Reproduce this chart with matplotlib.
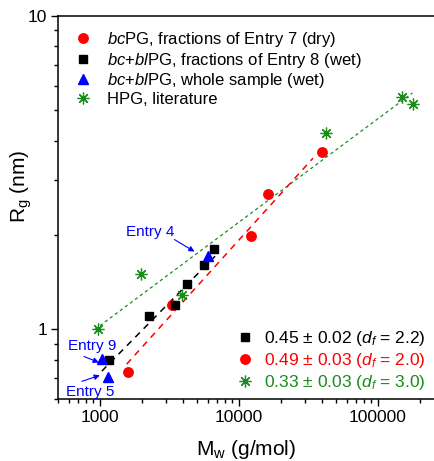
import numpy as np
import matplotlib
matplotlib.use("Agg")
import matplotlib.pyplot as plt
from matplotlib.lines import Line2D
from matplotlib.ticker import LogLocator, NullFormatter, FixedLocator, FixedFormatter

plt.rcParams['font.family'] = ['Liberation Sans', 'DejaVu Sans']
plt.rcParams['mathtext.fontset'] = 'custom'
plt.rcParams['mathtext.rm'] = 'Liberation Sans'
plt.rcParams['mathtext.it'] = 'Liberation Sans:italic'
plt.rcParams['mathtext.bf'] = 'Liberation Sans:bold'

# ---------------- data ----------------
red_mw = [1590, 3280, 12300, 16250, 39700]
red_rg = [0.73, 1.20, 1.99, 2.71, 3.69]

black_mw = [1160, 2245, 3450, 4275, 5660, 6670]
black_rg = [0.797, 1.10, 1.20, 1.40, 1.60, 1.80]

blue_mw = [1034, 1141, 6040]
blue_rg = [0.803, 0.703, 1.71]

green_mw = [967, 1968, 3873, 42400, 148600, 178000]
green_rg = [1.00, 1.50, 1.29, 4.24, 5.52, 5.25]

# power-law fits: exponent, reference point (Mw, Rg), range of Mw
fit_black = dict(nu=0.45, ref=(2715, 1.137), rng=(1034, 7130))
fit_red = dict(nu=0.49, ref=(7362, 1.658), rng=(1561, 34200))
fit_green = dict(nu=0.33, ref=(921, 1.0), rng=(921, 178000))

fit_labels = ["0.45 \u00b1 0.02 ($d_f$ = 2.2)",
              "0.49 \u00b1 0.03 ($d_f$ = 2.0)",
              "0.33 \u00b1 0.03 ($d_f$ = 3.0)"]

legend_labels = ["$bc$PG, fractions of Entry 7 (dry)",
                 "$bc$+$bl$PG, fractions of Entry 8 (wet)",
                 "$bc$+$bl$PG, whole sample (wet)",
                 "HPG, literature"]

x_ticks = [1000, 10000, 100000]
x_ticklabels = ["1000", "10000", "100000"]
y_ticks = [1, 10]
y_ticklabels = ["1", "10"]

RED = '#ff0000'
BLACK = '#000000'
BLUE = '#0000ff'
GREEN = '#1a8c1a'

# ---------------- figure ----------------
fig = plt.figure(figsize=(4.34, 4.61), dpi=100)
ax = fig.add_axes([58/434, 1-399/461, 386/434, 383/461])
ax.set_xscale('log')
ax.set_yscale('log')
ax.set_xlim(500, 300000)
ax.set_ylim(0.6, 10)


def fit_line(f):
    x = np.logspace(np.log10(f['rng'][0]), np.log10(f['rng'][1]), 50)
    A = f['ref'][1] / f['ref'][0] ** f['nu']
    return x, A * x ** f['nu']

xg, yg = fit_line(fit_green)
ax.plot(xg, yg, color=GREEN, lw=0.9, ls=(0, (2.6, 2.4)), zorder=2)
xb, yb = fit_line(fit_black)
ax.plot(xb, yb, color=BLACK, lw=1.1, ls=(0, (4.2, 3.6)), zorder=2)
xr, yr = fit_line(fit_red)
ax.plot(xr, yr, color=RED, lw=1.1, ls=(0, (4.2, 3.6)), zorder=2)

ast = (8, 2, 0)
ax.plot(green_mw, green_rg, ls='none', marker=ast, ms=8.5, mec=GREEN, mew=0.9, zorder=3)
ax.plot(red_mw, red_rg, ls='none', marker='o', ms=6.8, mfc=RED, mec=RED, zorder=4)
ax.plot(black_mw, black_rg, ls='none', marker='s', ms=5.5, mfc=BLACK, mec=BLACK, zorder=4)
ax.plot(blue_mw, blue_rg, ls='none', marker='^', ms=7.5, mfc=BLUE, mec=BLUE, zorder=5)

# annotations
arrow_kw = dict(arrowstyle='-|>', color=BLUE, lw=0.8, mutation_scale=8,
                shrinkA=0, shrinkB=0)
ax.annotate('', xy=(4797, 1.772), xytext=(3449, 1.935), arrowprops=arrow_kw)
ax.text(2321, 2.051, "Entry 4", color=BLUE, fontsize=11, ha='center', va='center')
ax.annotate('', xy=(984, 0.785), xytext=(768, 0.820), arrowprops=arrow_kw)
ax.text(876, 0.883, "Entry 9", color=BLUE, fontsize=11, ha='center', va='center')
ax.annotate('', xy=(1000, 0.714), xytext=(743, 0.683), arrowprops=arrow_kw)
ax.text(848, 0.633, "Entry 5", color=BLUE, fontsize=11, ha='center', va='center')

# ticks
ax.xaxis.set_major_locator(FixedLocator(x_ticks))
ax.xaxis.set_major_formatter(FixedFormatter(x_ticklabels))
ax.xaxis.set_minor_locator(LogLocator(base=10, subs=np.arange(2, 10)))
ax.xaxis.set_minor_formatter(NullFormatter())
ax.yaxis.set_major_locator(FixedLocator(y_ticks))
ax.yaxis.set_major_formatter(FixedFormatter(y_ticklabels))
ax.yaxis.set_minor_locator(LogLocator(base=10, subs=np.arange(2, 10)))
ax.yaxis.set_minor_formatter(NullFormatter())
ax.tick_params(which='major', direction='out', length=5, width=1.0, labelsize=12.5, pad=3)
ax.tick_params(which='minor', direction='out', length=3, width=1.0)
ax.tick_params(top=False, right=False, which='both')
for s in ax.spines.values():
    s.set_linewidth(1.1)

ax.set_xlabel("M$_\\mathrm{w}$ (g/mol)", fontsize=15)
ax.set_ylabel("R$_\\mathrm{g}$ (nm)", fontsize=15)
ax.xaxis.set_label_coords((246-58)/386, (399-438)/383)
ax.yaxis.set_label_coords((34-58)/386, (399-186)/383)

# upper legend
h_top = [Line2D([], [], ls='none', marker='o', ms=6.8, mfc=RED, mec=RED),
         Line2D([], [], ls='none', marker='s', ms=5.5, mfc=BLACK, mec=BLACK),
         Line2D([], [], ls='none', marker='^', ms=7.5, mfc=BLUE, mec=BLUE),
         Line2D([], [], ls='none', marker=ast, ms=8.5, mec=GREEN, mew=0.9)]
leg1 = ax.legend(h_top, legend_labels, loc='upper left', frameon=False, fontsize=12,
                 labelspacing=0.1, handlelength=1.0, handletextpad=0.9,
                 bbox_to_anchor=((75-58)/386, (399-30)/383), borderaxespad=0,
                 borderpad=0)
ax.add_artist(leg1)

# lower legend (fits)
h_fit = [Line2D([], [], ls='none', marker='s', ms=5.5, mfc=BLACK, mec=BLACK),
         Line2D([], [], ls='none', marker='o', ms=6.8, mfc=RED, mec=RED),
         Line2D([], [], ls='none', marker=ast, ms=8.5, mec=GREEN, mew=0.9)]
leg2 = ax.legend(h_fit, fit_labels, loc='upper left', frameon=False, fontsize=12.5,
                 labelspacing=0.18, handlelength=1.0, handletextpad=0.6,
                 bbox_to_anchor=((236-58)/386, (399-329)/383), borderaxespad=0,
                 borderpad=0)
for t, c in zip(leg2.get_texts(), [BLACK, RED, GREEN]):
    t.set_color(c)

fig.savefig("out.png", dpi=100)
